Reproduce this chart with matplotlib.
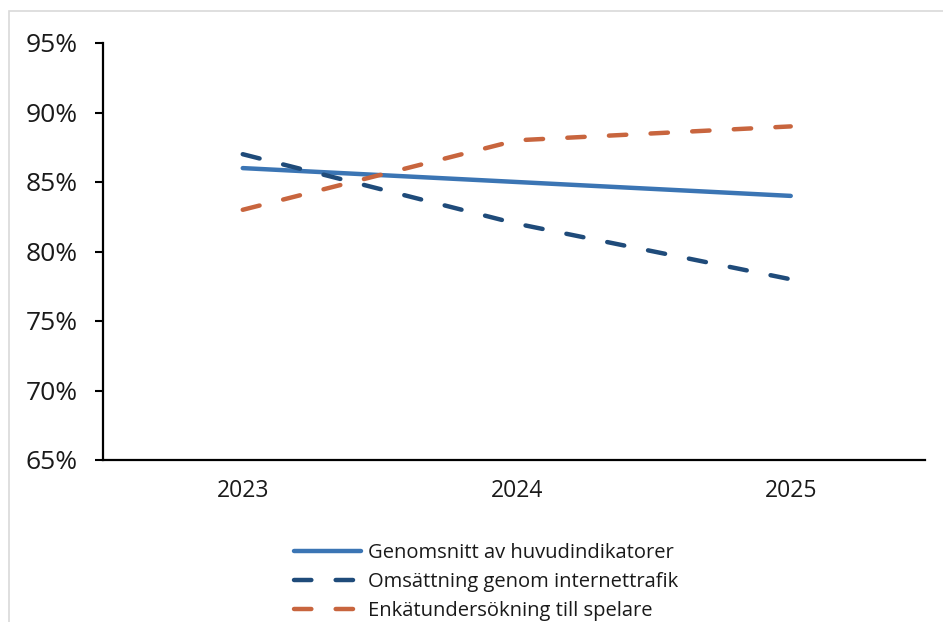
import matplotlib
matplotlib.use("Agg")
import matplotlib.pyplot as plt
from matplotlib.patches import Rectangle
from matplotlib.ticker import FuncFormatter

plt.rcParams['font.family'] = ['Open Sans', 'DejaVu Sans']
plt.rcParams['lines.scale_dashes'] = False

years = ["2023", "2024", "2025"]
genomsnitt = [86, 85, 84]
omsattning = [87, 82, 78]
enkat = [83, 88, 89]
labels = ["Genomsnitt av huvudindikatorer",
          "Omsättning genom internettrafik",
          "Enkätundersökning till spelare"]
yticks = [65, 70, 75, 80, 85, 90, 95]

W, H = 943, 622
fig = plt.figure(figsize=(W / 100, H / 100), dpi=100)
fig.patch.set_facecolor('white')
fig.add_artist(Rectangle((9 / W, -0.1), 2, 1.1 - 10.5 / H, transform=fig.transFigure,
                         fill=False, edgecolor='#d9d9d9', linewidth=1.2))

ax = fig.add_axes([103 / W, 1 - 460 / H, (925 - 103) / W, (460 - 43) / H])
x = list(range(len(years)))
lw = 3.2
ax.plot(x, genomsnitt, color='#3b75b4', lw=lw, solid_capstyle='round', label=labels[0])
ax.plot(x, omsattning, color='#1f4b7a', lw=lw, dashes=(12.5, 17.5),
        dash_capstyle='round', label=labels[1])
ax.plot(x, enkat, color='#c8653e', lw=lw, dashes=(12.5, 17.5),
        dash_capstyle='round', label=labels[2])

ax.set_xlim(-0.51, 2.49)
ax.set_ylim(65, 95)
ax.set_yticks(yticks)
ax.yaxis.set_major_formatter(FuncFormatter(lambda v, p: f"{v:.0f}%"))
ax.set_xticks(x)
ax.set_xticklabels(years)
ax.tick_params(axis='y', length=6, width=1.5, labelsize=19, pad=12, colors='#000000')
ax.tick_params(axis='x', length=0, labelsize=16.5, pad=14)
for s in ['top', 'right']:
    ax.spines[s].set_visible(False)
for s in ['left', 'bottom']:
    ax.spines[s].set_linewidth(1.6)
    ax.spines[s].set_color('#000000')
for lab in ax.get_xticklabels() + ax.get_yticklabels():
    lab.set_color('#1a1a1a')

leg = fig.legend(loc='upper left', bbox_to_anchor=(284 / W, 1 - 533 / H),
                 frameon=False, fontsize=14.5, handlelength=3.3, handletextpad=0.35,
                 labelspacing=0.45, borderpad=0)
for t in leg.get_texts():
    t.set_color('#1a1a1a')

fig.savefig('out.png', dpi=100)
